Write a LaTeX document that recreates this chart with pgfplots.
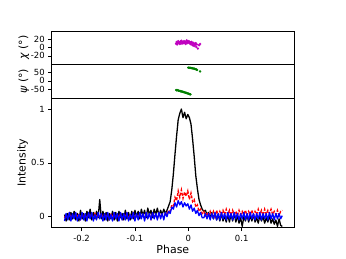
\documentclass[border=0pt]{standalone}
\usepackage{fontspec}
\setmainfont{DejaVu Sans}
\usepackage{pgfplots}
\usepackage{pgfplotstable}
\pgfplotsset{compat=1.18}
\definecolor{mplm}{rgb}{0.75,0,0.75}
\definecolor{mplg}{rgb}{0,0.5,0}

\pgfplotstableread{
x k r b
-0.232 0.02 -0.01 -0.04
-0.229 -0.04 0.02 0.03
-0.226 0.03 -0.02 -0.03
-0.223 -0.03 0.03 0.04
-0.220 0.04 -0.01 -0.04
-0.217 -0.02 0.02 0.03
-0.214 0.05 -0.02 -0.02
-0.211 -0.03 0.03 0.04
-0.208 0.03 0.00 -0.04
-0.205 -0.04 0.02 0.02
-0.202 0.06 -0.02 -0.03
-0.199 -0.02 0.03 0.04
-0.196 0.03 -0.01 -0.03
-0.193 -0.04 0.02 0.03
-0.190 0.05 -0.02 -0.04
-0.187 -0.01 0.03 0.04
-0.184 0.07 0.00 -0.02
-0.181 -0.03 0.02 0.04
-0.178 0.04 -0.02 -0.04
-0.175 -0.02 0.03 0.02
-0.172 0.05 0.00 -0.03
-0.169 -0.01 0.02 0.04
-0.166 0.16 -0.01 -0.02
-0.163 -0.02 0.03 0.03
-0.160 0.05 -0.02 -0.04
-0.157 -0.03 0.02 0.03
-0.154 0.04 -0.01 -0.03
-0.151 -0.04 0.03 0.04
-0.148 0.03 -0.02 -0.03
-0.145 -0.02 0.02 0.02
-0.142 0.05 0.00 -0.04
-0.139 -0.03 0.03 0.04
-0.136 0.04 -0.02 -0.02
-0.133 -0.04 0.02 0.03
-0.130 0.05 -0.01 -0.04
-0.127 -0.01 0.03 0.04
-0.124 0.03 -0.02 -0.03
-0.121 -0.03 0.02 0.03
-0.118 0.06 0.00 -0.03
-0.115 -0.02 0.03 0.04
-0.112 0.04 -0.02 -0.04
-0.109 -0.03 0.02 0.02
-0.106 0.05 -0.01 -0.02
-0.103 -0.02 0.03 0.04
-0.100 0.06 -0.02 -0.04
-0.097 0.00 0.02 0.03
-0.094 0.05 -0.01 -0.03
-0.091 -0.02 0.03 0.04
-0.088 0.07 0.00 -0.02
-0.085 0.01 0.02 0.03
-0.082 0.06 -0.02 -0.04
-0.079 -0.01 0.03 0.04
-0.076 0.08 -0.01 -0.02
-0.073 0.02 0.02 0.03
-0.070 0.06 -0.02 -0.03
-0.067 -0.01 0.03 0.04
-0.064 0.07 0.00 -0.02
-0.061 0.02 0.02 0.03
-0.058 0.08 -0.02 -0.03
-0.055 0.01 0.03 0.04
-0.052 0.06 0.00 -0.02
-0.049 0.02 0.02 0.03
-0.046 0.07 -0.01 -0.03
-0.043 0.03 0.03 0.04
-0.040 0.06 0.02 0.00
-0.037 0.10 0.06 0.05
-0.034 0.14 0.05 0.03
-0.031 0.25 0.11 0.09
-0.028 0.40 0.10 0.07
-0.025 0.58 0.18 0.13
-0.022 0.75 0.15 0.09
-0.019 0.90 0.24 0.15
-0.016 0.96 0.18 0.11
-0.013 1.00 0.25 0.14
-0.010 0.92 0.17 0.09
-0.007 0.97 0.23 0.13
-0.004 0.91 0.19 0.10
-0.001 0.95 0.24 0.12
0.002 0.92 0.16 0.07
0.005 0.86 0.22 0.11
0.008 0.72 0.14 0.05
0.011 0.56 0.16 0.08
0.014 0.38 0.09 0.03
0.017 0.26 0.11 0.06
0.020 0.16 0.05 0.01
0.023 0.11 0.07 0.04
0.026 0.07 0.03 -0.01
0.029 0.05 0.05 -0.01
0.032 0.06 0.01 0.03
0.035 0.02 0.04 -0.02
0.038 0.04 0.00 0.03
0.041 -0.01 0.05 -0.03
0.044 0.04 0.01 0.03
0.047 -0.02 0.05 -0.02
0.050 0.03 0.00 0.04
0.053 -0.03 0.06 -0.03
0.056 0.02 0.01 0.03
0.059 -0.04 0.05 -0.03
0.062 0.03 0.02 0.04
0.065 -0.04 0.06 -0.02
0.068 0.01 0.02 0.03
0.071 -0.05 0.07 -0.03
0.074 0.02 0.02 0.04
0.077 -0.05 0.06 -0.02
0.080 0.02 0.01 0.03
0.083 -0.04 0.06 -0.03
0.086 0.03 0.02 0.04
0.089 -0.05 0.05 -0.02
0.092 0.01 0.01 0.03
0.095 -0.06 0.06 -0.03
0.098 -0.01 0.02 0.03
0.101 -0.09 0.05 -0.02
0.104 0.00 0.02 0.04
0.107 -0.04 0.06 -0.03
0.110 0.02 0.01 0.03
0.113 -0.05 0.05 -0.03
0.116 0.01 0.02 0.04
0.119 -0.04 0.06 -0.02
0.122 0.02 0.01 0.03
0.125 -0.05 0.05 -0.03
0.128 -0.01 0.02 0.03
0.131 -0.06 0.07 -0.02
0.134 0.01 0.02 0.04
0.137 -0.04 0.06 -0.03
0.140 0.00 0.01 0.03
0.143 -0.06 0.07 -0.02
0.146 -0.01 0.02 0.03
0.149 -0.05 0.06 -0.03
0.152 0.01 0.03 0.04
0.155 -0.06 0.07 -0.02
0.158 -0.02 0.02 0.03
0.161 -0.07 0.05 -0.03
0.164 -0.03 0.02 0.03
0.167 -0.09 0.06 -0.02
0.170 -0.02 0.01 0.03
0.173 -0.08 0.05 -0.02
0.176 -0.09 0.06 0.01
}\prof

\pgfplotstableread{
x c
-0.023 10
-0.022 14
-0.021 8
-0.020 12
-0.019 16
-0.018 11
-0.017 13
-0.016 9
-0.015 15
-0.014 12
-0.013 17
-0.012 10
-0.011 14
-0.010 13
-0.009 11
-0.008 16
-0.007 12
-0.006 15
-0.005 9
-0.004 13
-0.003 18
-0.002 11
-0.001 14
0.000 16
0.001 12
0.002 15
0.003 10
0.004 13
0.005 8
0.006 14
0.007 11
0.008 6
0.009 12
0.010 9
0.011 4
0.012 10
0.013 7
0.014 11
0.015 2
0.016 8
0.018 -2
0.020 6
0.022 9
}\chitab

\pgfplotstableread{
x p
-0.0230 -55
-0.0215 -57
-0.0200 -56
-0.0185 -59
-0.0170 -60
-0.0155 -61
-0.0140 -63
-0.0125 -64
-0.0110 -65
-0.0095 -67
-0.0080 -68
-0.0065 -70
-0.0050 -71
-0.0035 -73
-0.0020 -75
-0.0005 -76
0.0010 -78
0.0025 -80
0.0040 -81
0.0000 80
0.0015 79
0.0030 79
0.0045 78
0.0060 77
0.0075 76
0.0090 75
0.0105 74
0.0120 73
0.0135 71
0.0150 69
0.0165 66
0.0220 57
}\psitab

\begin{document}
\begin{tikzpicture}
\useasboundingbox (0,0) rectangle (346bp,259bp);
\pgfplotsset{
  every axis/.append style={
    scale only axis, width=242.3bp, xmin=-0.256, xmax=0.198,
    axis line style={black, line width=0.8pt},
    tick style={black, line width=0.6pt},
    tick align=outside, major tick length=3.5bp,
    xtick pos=bottom, ytick pos=left,
    tick label style={font=\fontsize{8.5}{9}\selectfont},
    /pgf/number format/assume math mode=true,
    label style={font=\fontsize{11}{12}\selectfont},
    anchor=south west,
  }
}
% bottom
\begin{axis}[
  at={(51.7bp,31.3bp)}, height=129.4bp,
  ymin=-0.102, ymax=1.10,
  xtick={-0.2,-0.1,0,0.1}, xticklabels={-0.2,-0.1,0,0.1},
  ytick={0,0.5,1}, yticklabels={0,0.5,1},
  xlabel={Phase}, ylabel={Intensity},
  xlabel style={at={(axis description cs:0.5,-0.165)}, anchor=center},
  ylabel style={at={(axis description cs:-0.12,0.5)}, anchor=center},
]
\addplot[black, line width=1.3pt, line join=round] table[x=x,y=k] {\prof};
\addplot[red, line width=1.3pt, dash pattern=on 3pt off 1.5pt] table[x=x,y=r] {\prof};
\addplot[blue, line width=1.3pt, line join=round] table[x=x,y=b] {\prof};
\end{axis}
% middle
\begin{axis}[
  at={(51.7bp,160.7bp)}, height=34bp,
  ymin=-105, ymax=100,
  xtick=\empty,
  ytick={-50,0,50}, yticklabels={-50,0,50},
  ylabel={\textit{ψ} (°)},
  ylabel style={at={(axis description cs:-0.115,0.5)}, anchor=center},
]
\addplot[only marks, mark=*, mark size=1pt, color=mplg, mark options={draw=none, fill=mplg}] table[x=x,y=p] {\psitab};
\end{axis}
% top
\begin{axis}[
  at={(51.7bp,194.7bp)}, height=33.3bp,
  ymin=-40.5, ymax=40.7,
  xtick=\empty,
  ytick={-20,0,20}, yticklabels={-20,0,20},
  ylabel={\textit{χ} (°)},
  ylabel style={at={(axis description cs:-0.115,0.5)}, anchor=center},
]
\addplot[only marks, mark=*, mark size=1pt, color=mplm, mark options={draw=none, fill=mplm}] table[x=x,y=c] {\chitab};
\end{axis}
\end{tikzpicture}
\end{document}
